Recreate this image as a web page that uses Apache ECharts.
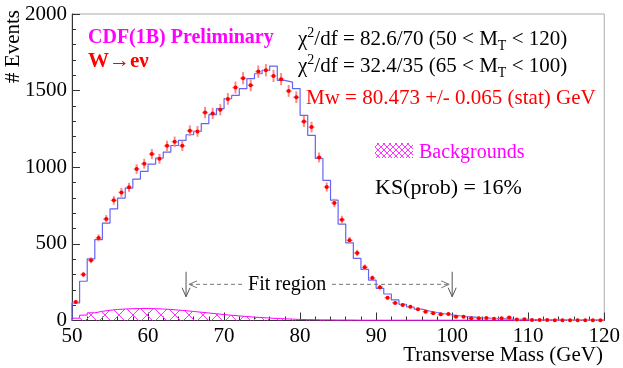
<!DOCTYPE html>
<html>
<head>
<meta charset="utf-8">
<script src="https://cdn.jsdelivr.net/npm/echarts@6/dist/echarts.min.js"></script>
<style>
  html, body { margin: 0; padding: 0; background: #fff; }
  #chart { width: 623px; height: 368px; }
</style>
</head>
<body>
<div id="chart"></div>
<script>
// lower edges of the 1 GeV bins, 50 .. 119
var binEdges = [];
for (var e = 50; e < 120; e++) binEdges.push(e);

// measured counts (red points)
var dataCounts = [
  120, 300, 393, 539, 662, 784, 836, 869, 988, 1023,
  1086, 1055, 1140, 1166, 1140, 1238, 1234, 1357, 1351, 1375,
  1446, 1520, 1581, 1535, 1624, 1633, 1596, 1575, 1498, 1457,
  1298, 1262, 1064, 871, 767, 658, 523, 441, 347, 278,
  217, 148, 115, 101, 90, 73, 57, 47, 40, 42,
  25, 25, 14, 14, 17, 12, 14, 20, 6, 8,
  4, 3, 3, 2, 2, 1, 2, 1, 1, 1
];

// simulation (blue step histogram)
var mcCounts = [
  115, 256, 402, 528, 636, 728, 799, 864, 923, 973,
  1021, 1060, 1099, 1142, 1175, 1212, 1234, 1285, 1343, 1382,
  1448, 1469, 1513, 1578, 1610, 1632, 1660, 1567, 1556, 1513,
  1339, 1208, 1057, 915, 785, 629, 507, 405, 334, 264,
  210, 173, 134, 105, 88, 74, 62, 52, 44, 37,
  31, 26, 22, 18, 15, 13, 11, 9, 8, 7,
  6, 5, 4, 4, 3, 3, 2, 2, 2, 1
];

// backgrounds (magenta hatched)
var bkgCounts = [
  15, 35, 50, 60, 67, 72, 75, 77, 78, 78,
  77, 75, 72, 68, 64, 59, 54, 49, 44, 39,
  34, 30, 26, 22, 19, 16, 13, 11, 9, 7,
  6, 5, 4, 4, 3, 3, 3, 2, 2, 2,
  2, 2, 2, 2, 2, 2, 2, 2, 2, 2,
  2, 2, 2, 2, 2, 2, 2, 2, 2, 2,
  2, 2, 2, 2, 2, 2, 2, 2, 2, 2
];

var fitRange = [65, 100];
var xTicks = [50, 60, 70, 80, 90, 100, 110, 120];
var yTicks = [0, 500, 1000, 1500, 2000];

var FONT = 'Liberation Serif';

function stepData(counts) {
  var out = [[binEdges[0], 0]];
  binEdges.forEach(function (x, i) { out.push([x, counts[i]]); });
  out.push([120, counts[counts.length - 1]]);
  return out;
}

function hatch(size, color) {
  var c = document.createElement('canvas');
  c.width = size; c.height = size;
  var g = c.getContext('2d');
  g.strokeStyle = color;
  g.lineWidth = 1;
  g.beginPath();
  g.moveTo(0, 0); g.lineTo(size, size);
  g.moveTo(size, 0); g.lineTo(0, size);
  g.stroke();
  return c;
}

var richChi = {
  a: { fontFamily: FONT, fontSize: 21, fill: '#000', lineHeight: 27 },
  s: { fontFamily: FONT, fontSize: 14, fill: '#000', lineHeight: 14, verticalAlign: 'top' },
  t: { fontFamily: FONT, fontSize: 14, fill: '#000', lineHeight: 14, verticalAlign: 'bottom' }
};

var chart = echarts.init(document.getElementById('chart'));

chart.setOption({
  backgroundColor: '#fff',
  animation: false,
  grid: {
    left: 72, right: 17, top: 14, bottom: 47.5,
    show: true, borderColor: '#aaa', borderWidth: 1
  },
  xAxis: {
    type: 'value', min: xTicks[0], max: xTicks[xTicks.length - 1], interval: 10,
    axisLine: { onZero: false, lineStyle: { color: '#333', width: 1 } },
    axisTick: { inside: true, length: 8, lineStyle: { color: '#333' } },
    minorTick: { show: true, splitNumber: 5, length: 4, lineStyle: { color: '#333' } },
    splitLine: { show: false },
    axisLabel: { fontFamily: FONT, fontSize: 21, color: '#000', margin: 5,
      formatter: function (v) { return String(v); } }
  },
  yAxis: {
    type: 'value', min: yTicks[0], max: yTicks[yTicks.length - 1], interval: 500,
    axisLine: { show: true, lineStyle: { color: '#333', width: 1 } },
    axisTick: { show: true, inside: true, length: 8, lineStyle: { color: '#333' } },
    minorTick: { show: true, splitNumber: 5, length: 4, lineStyle: { color: '#333' } },
    splitLine: { show: false },
    axisLabel: { fontFamily: FONT, fontSize: 21, color: '#000', margin: 5,
      formatter: function (v) { return String(v); } }
  },
  series: [
    {
      name: 'Backgrounds',
      type: 'line', step: 'end', symbol: 'none',
      data: stepData(bkgCounts),
      lineStyle: { color: '#ff00ff', width: 1 },
      areaStyle: { color: { image: hatch(14, '#ff33ff'), repeat: 'repeat' }, opacity: 1 },
      z: 2
    },
    {
      name: 'MC',
      type: 'line', step: 'end', symbol: 'none',
      data: stepData(mcCounts),
      lineStyle: { color: '#6464f5', width: 1.2 },
      z: 3
    },
    {
      name: 'Data',
      type: 'custom',
      data: binEdges.map(function (x, i) { return [x + 0.5, dataCounts[i]]; }),
      renderItem: function (params, api) {
        var x = api.value(0), y = api.value(1);
        var err = Math.sqrt(y); // Poisson error of the read count
        var c = api.coord([x, y]);
        var t = api.coord([x, y + err]);
        var b = api.coord([x, Math.max(0, y - err)]);
        var l = api.coord([x - 0.4, y]);
        var r = api.coord([x + 0.4, y]);
        return {
          type: 'group',
          children: [
            { type: 'line', shape: { x1: c[0], y1: t[1], x2: c[0], y2: b[1] },
              style: { stroke: '#ff8a8a', lineWidth: 2 } },
            { type: 'line', shape: { x1: l[0], y1: c[1], x2: r[0], y2: c[1] },
              style: { stroke: '#ff8a8a', lineWidth: 1.5 } },
            { type: 'circle', shape: { cx: c[0], cy: c[1], r: 2 },
              style: { fill: '#ff0000' } }
          ]
        };
      },
      z: 4
    },
    {
      name: 'Fit region',
      type: 'custom',
      data: [fitRange],
      renderItem: function (params, api) {
        var lo = api.value(0), hi = api.value(1);
        var a1 = api.coord([lo, 318]), a2 = api.coord([lo, 155]);
        var b1 = api.coord([hi, 318]), b2 = api.coord([hi, 155]);
        var yd = api.coord([lo, 236])[1];
        var tl = api.coord([72.4, 0])[0], tr = api.coord([84.2, 0])[0];
        var tc = api.coord([78.3, 0])[0];
        var grey = '#555';
        function vArrow(p, q) {
          return [
            { type: 'line', shape: { x1: p[0], y1: p[1], x2: q[0], y2: q[1] }, style: { stroke: grey, lineWidth: 1 } },
            { type: 'polyline', shape: { points: [[q[0] - 4, q[1] - 9], [q[0], q[1]], [q[0] + 4, q[1] - 9]] }, style: { stroke: grey, fill: null, lineWidth: 1 } }
          ];
        }
        var kids = [].concat(vArrow(a1, a2), vArrow(b1, b2));
        kids.push(
          { type: 'line', shape: { x1: a1[0] + 3, y1: yd, x2: tl, y2: yd }, style: { stroke: '#777', lineWidth: 1, lineDash: [4, 3] } },
          { type: 'polyline', shape: { points: [[a1[0] + 11, yd - 3.5], [a1[0] + 3, yd], [a1[0] + 11, yd + 3.5]] }, style: { stroke: '#777', fill: null, lineWidth: 1 } },
          { type: 'line', shape: { x1: tr, y1: yd, x2: b1[0] - 3, y2: yd }, style: { stroke: '#777', lineWidth: 1, lineDash: [4, 3] } },
          { type: 'polyline', shape: { points: [[b1[0] - 11, yd - 3.5], [b1[0] - 3, yd], [b1[0] - 11, yd + 3.5]] }, style: { stroke: '#777', fill: null, lineWidth: 1 } },
          { type: 'text', style: { x: tc, y: yd, text: 'Fit region', align: 'center', verticalAlign: 'middle', fontFamily: FONT, fontSize: 20, fill: '#000' } }
        );
        return { type: 'group', children: kids };
      },
      z: 5
    }
  ],
  graphic: [
    { type: 'text', x: 88, y: 38, style: { text: 'CDF(1B) Preliminary', fontFamily: FONT, fontWeight: 'bold', fontSize: 20, fill: '#ff00ff', verticalAlign: 'middle' } },
    { type: 'text', x: 88, y: 62, style: { text: 'W→eν', fontFamily: FONT, fontWeight: 'bold', fontSize: 21, fill: '#ff0000', verticalAlign: 'middle' } },
    { type: 'text', x: 298, y: 26, style: { text: '{a|χ}{s|2}{a|/df = 82.6/70 (50 < M}{t|T}{a| < 120)}', rich: richChi } },
    { type: 'text', x: 298, y: 53, style: { text: '{a|χ}{s|2}{a|/df = 32.4/35 (65 < M}{t|T}{a| < 100)}', rich: richChi } },
    { type: 'text', x: 306, y: 98.5, style: { text: 'Mw = 80.473 +/- 0.065 (stat) GeV', fontFamily: FONT, fontSize: 21, fill: '#ff0000', verticalAlign: 'middle' } },
    { type: 'rect', shape: { x: 375, y: 143, width: 38, height: 15 }, style: { fill: { image: hatch(6, '#ff33ff'), repeat: 'repeat' } } },
    { type: 'text', x: 419, y: 153, style: { text: 'Backgrounds', fontFamily: FONT, fontSize: 20, fill: '#ff00ff', verticalAlign: 'middle' } },
    { type: 'text', x: 375, y: 188, style: { text: 'KS(prob) = 16%', fontFamily: FONT, fontSize: 22, fill: '#000', verticalAlign: 'middle' } },
    { type: 'text', x: 603, y: 355, style: { text: 'Transverse Mass (GeV)', fontFamily: FONT, fontSize: 21, fill: '#000', align: 'right', verticalAlign: 'middle' } },
    { type: 'text', x: 13, y: 10, rotation: Math.PI / 2, style: { text: '# Events', fontFamily: FONT, fontSize: 21, fill: '#000', align: 'right', verticalAlign: 'middle' } }
  ]
});
</script>
</body>
</html>
